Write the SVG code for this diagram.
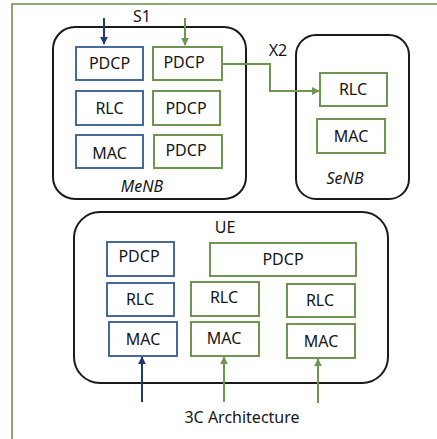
<svg xmlns="http://www.w3.org/2000/svg" width="437" height="439" viewBox="0 0 437 439">
<defs>
<style>
text{font-family:"Noto Sans","Open Sans","Liberation Sans",sans-serif;fill:#151515;text-anchor:middle}
.lbl{font-size:16px}
.hdr{font-size:16px}
.it{font-size:16px;font-style:italic}
.g{fill:#fff;stroke:#6f9650;stroke-width:2}
.b{fill:#fff;stroke:#47699c;stroke-width:2}
.enb{fill:#fff;stroke:#1a1a1a;stroke-width:2}
.cg{fill:none;stroke:#6f9650;stroke-width:2}
.cb{fill:none;stroke:#1f3a6e;stroke-width:2}
</style>
<marker id="ag" viewBox="0 0 10 10" refX="9" refY="5" markerWidth="4" markerHeight="4" orient="auto"><path d="M0,0L10,5L0,10z" fill="#6f9650"/></marker>
<marker id="ab" viewBox="0 0 10 10" refX="9" refY="5" markerWidth="4" markerHeight="4" orient="auto"><path d="M0,0L10,5L0,10z" fill="#1f3a6e"/></marker>
</defs>
<rect width="437" height="439" fill="#fff"/>
<path d="M12,439V4H437" fill="none" stroke="#8aab6c" stroke-width="2"/>

<g id="MeNB">
<rect class="enb" x="53" y="27" width="193" height="172" rx="22"/>
<text class="it" x="142" y="192">MeNB</text>
</g>
<g id="SeNB">
<rect class="enb" x="296" y="35" width="113" height="164" rx="20"/>
<text class="it" x="345" y="184">SeNB</text>
</g>
<g id="UE">
<rect class="enb" x="74" y="212" width="314" height="171" rx="26"/>
<text class="hdr" x="225" y="233">UE</text>
</g>

<g id="menb-pdcp-b"><rect class="b" x="76" y="47" width="67" height="33"/><text class="lbl" x="109.5" y="69">PDCP</text></g>
<g id="menb-rlc-b"><rect class="b" x="76" y="91" width="67" height="34"/><text class="lbl" x="109.5" y="114">RLC</text></g>
<g id="menb-mac-b"><rect class="b" x="76" y="135" width="67" height="33"/><text class="lbl" x="109.5" y="159">MAC</text></g>
<g id="menb-pdcp-g1"><rect class="g" x="153" y="47" width="69" height="33"/><text class="lbl" x="184" y="68">PDCP</text></g>
<g id="menb-pdcp-g2"><rect class="g" x="153" y="91" width="67" height="34"/><text class="lbl" x="186" y="114">PDCP</text></g>
<g id="menb-pdcp-g3"><rect class="g" x="154" y="135" width="68" height="33"/><text class="lbl" x="186" y="156">PDCP</text></g>

<g id="senb-rlc"><rect class="g" x="320" y="73" width="67" height="33"/><text class="lbl" x="353" y="95">RLC</text></g>
<g id="senb-mac"><rect class="g" x="317" y="119" width="68" height="34"/><text class="lbl" x="351" y="142">MAC</text></g>

<g id="ue-pdcp-b"><rect class="b" x="107" y="242" width="67" height="34"/><text class="lbl" x="139" y="262">PDCP</text></g>
<g id="ue-rlc-b"><rect class="b" x="107" y="283" width="67" height="33"/><text class="lbl" x="140" y="305">RLC</text></g>
<g id="ue-mac-b"><rect class="b" x="109" y="322" width="68" height="34"/><text class="lbl" x="143" y="345">MAC</text></g>
<g id="ue-pdcp-g"><rect class="g" x="210" y="243" width="146" height="33"/><text class="lbl" x="283" y="265">PDCP</text></g>
<g id="ue-rlc-g1"><rect class="g" x="191" y="282" width="68" height="34"/><text class="lbl" x="224" y="303">RLC</text></g>
<g id="ue-mac-g1"><rect class="g" x="191" y="322" width="68" height="34"/><text class="lbl" x="224" y="344">MAC</text></g>
<g id="ue-rlc-g2"><rect class="g" x="287" y="284" width="68" height="33"/><text class="lbl" x="320" y="306">RLC</text></g>
<g id="ue-mac-g2"><rect class="g" x="287" y="324" width="68" height="34"/><text class="lbl" x="321" y="347">MAC</text></g>

<g id="connectors">
<path class="cb" d="M104,18V44" marker-end="url(#ab)"/>
<path class="cg" d="M185,18V45" marker-end="url(#ag)"/>
<path class="cg" d="M222,64H270V91H319" marker-end="url(#ag)"/>
<path class="cb" d="M142,402V357" marker-end="url(#ab)"/>
<path class="cg" d="M224,402V357" marker-end="url(#ag)"/>
<path class="cg" d="M318,403V359" marker-end="url(#ag)"/>
</g>

<text class="hdr" x="142" y="22">S1</text>
<text class="hdr" x="278" y="56">X2</text>
<text class="lbl" x="242" y="423">3C Architecture</text>
</svg>
